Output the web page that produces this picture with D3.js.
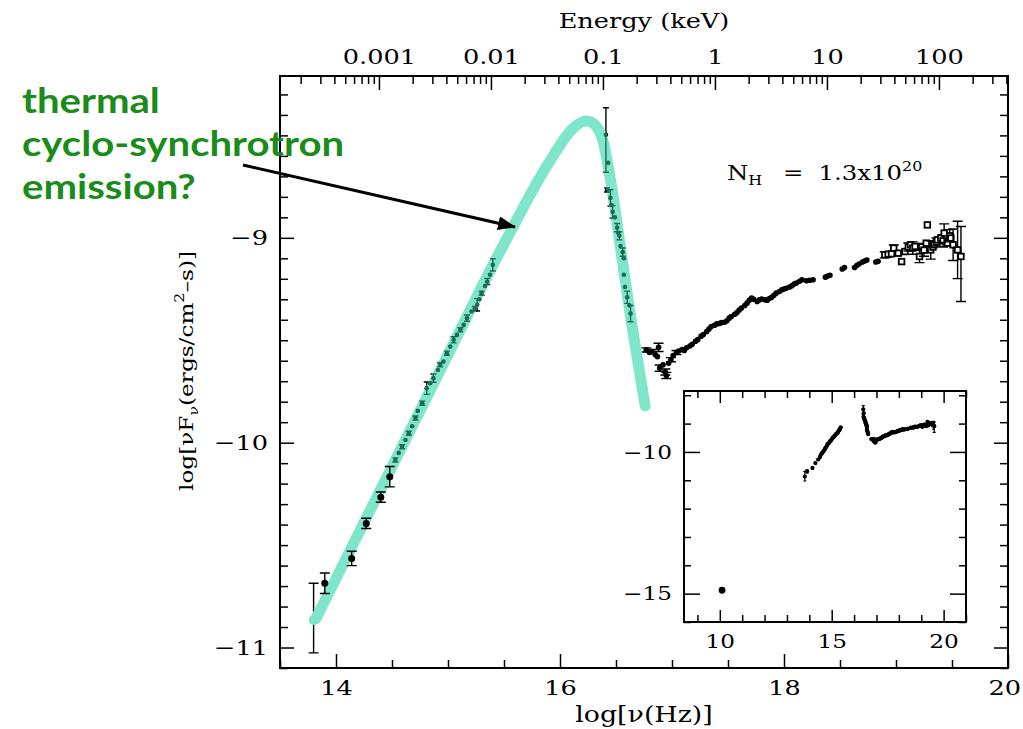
<!DOCTYPE html>
<html>
<head>
<meta charset="utf-8">
<script src="https://cdn.jsdelivr.net/npm/d3@7"></script>
<style>
  body { margin: 0; background: #fff; }
  svg { display: block; }
  text { font-family: 'DejaVu Serif', serif; }
  text.note { font-family: 'Lato', sans-serif; font-weight: bold; }
</style>
</head>
<body>
<svg id="chart" width="1023" height="729"></svg>
<script>
// values
// each point: [log nu (Hz), log nuFnu, err below, err above]
const irPoints = [
  [13.80, -10.866, 0.16, 0.18],
  [13.90, -10.686, 0.05, 0.05],
  [14.14, -10.565, 0.035, 0.035],
  [14.27, -10.394, 0.025, 0.025],
  [14.40, -10.266, 0.025, 0.025],
  [14.48, -10.166, 0.05, 0.05]
]

const uvPoints = [
  [14.53, -10.084, 0.01, 0.01], [14.56, -10.05, 0, 0], [14.59, -10.02, 0.01, 0.01],
  [14.62, -9.987, 0, 0], [14.65, -9.954, 0.01, 0.01], [14.68, -9.92, 0, 0],
  [14.71, -9.88, 0.01, 0.01], [14.73, -9.845, 0, 0], [14.77, -9.807, 0.01, 0.01],
  [14.81, -9.734, 0.03, 0.03], [14.84, -9.71, 0, 0], [14.87, -9.685, 0.02, 0.02],
  [14.91, -9.645, 0, 0], [14.93, -9.62, 0.01, 0.01], [14.96, -9.604, 0, 0],
  [14.99, -9.563, 0.01, 0.01], [15.02, -9.531, 0, 0], [15.05, -9.498, 0.015, 0.015],
  [15.08, -9.474, 0, 0], [15.11, -9.449, 0.01, 0.01], [15.14, -9.425, 0, 0],
  [15.17, -9.392, 0.015, 0.015], [15.21, -9.36, 0, 0], [15.24, -9.345, 0.01, 0.01],
  [15.26, -9.327, 0.03, 0.03], [15.28, -9.30, 0, 0], [15.30, -9.27, 0.01, 0.01],
  [15.33, -9.235, 0, 0], [15.35, -9.213, 0.015, 0.015], [15.375, -9.18, 0, 0],
  [15.40, -9.132, 0.03, 0.03]
]

const euvPoints = [
  [16.41, -8.497, 0.183, 0.132], [16.43, -8.634, 0, 0], [16.42, -8.766, 0.01, 0.01],
  [16.45, -8.805, 0.04, 0.04], [16.46, -8.84, 0, 0], [16.47, -8.873, 0.03, 0.03],
  [16.49, -8.90, 0, 0], [16.51, -8.95, 0.02, 0.02], [16.52, -8.975, 0, 0],
  [16.53, -8.99, 0.02, 0.02], [16.54, -9.04, 0, 0], [16.56, -9.07, 0.02, 0.02],
  [16.57, -9.10, 0, 0], [16.57, -9.18, 0, 0], [16.58, -9.24, 0, 0],
  [16.60, -9.29, 0.03, 0.03], [16.62, -9.33, 0, 0], [16.63, -9.37, 0.04, 0.04]
]

const xrayPoints = [
  [16.77, -9.547, 0.01, 0.01], [16.80, -9.560, 0, 0], [16.82, -9.555, 0.01, 0.01],
  [16.85, -9.570, 0, 0], [16.87, -9.580, 0, 0], [16.88, -9.535, 0.02, 0.02],
  [16.89, -9.636, 0.015, 0.015], [16.92, -9.620, 0, 0], [16.94, -9.655, 0.015, 0.015],
  [16.95, -9.672, 0.015, 0.015], [16.97, -9.612, 0, 0], [16.99, -9.595, 0.01, 0.01],
  [17.01, -9.575, 0, 0], [17.04, -9.560, 0.01, 0.01], [17.06, -9.553, 0, 0],
  [17.09, -9.545, 0, 0], [17.11, -9.550, 0, 0], [17.13, -9.537, 0, 0],
  [17.16, -9.528, 0, 0], [17.18, -9.520, 0, 0], [17.21, -9.505, 0, 0],
  [17.23, -9.497, 0, 0], [17.26, -9.480, 0, 0], [17.28, -9.472, 0, 0],
  [17.31, -9.457, 0, 0], [17.33, -9.445, 0, 0], [17.35, -9.433, 0, 0],
  [17.38, -9.427, 0, 0], [17.40, -9.420, 0, 0], [17.42, -9.418, 0, 0],
  [17.44, -9.414, 0, 0], [17.47, -9.412, 0, 0], [17.49, -9.405, 0, 0],
  [17.51, -9.392, 0, 0], [17.53, -9.384, 0, 0], [17.56, -9.373, 0, 0],
  [17.58, -9.365, 0, 0], [17.60, -9.352, 0, 0], [17.62, -9.343, 0, 0],
  [17.65, -9.330, 0, 0], [17.67, -9.319, 0, 0], [17.69, -9.305, 0, 0],
  [17.71, -9.294, 0, 0], [17.73, -9.300, 0, 0], [17.76, -9.311, 0, 0],
  [17.78, -9.303, 0, 0], [17.80, -9.299, 0, 0], [17.83, -9.302, 0, 0],
  [17.85, -9.305, 0, 0], [17.87, -9.296, 0, 0], [17.89, -9.290, 0, 0],
  [17.91, -9.280, 0, 0], [17.93, -9.270, 0, 0], [17.96, -9.262, 0, 0],
  [17.98, -9.254, 0, 0], [18.00, -9.250, 0, 0], [18.02, -9.246, 0, 0],
  [18.05, -9.240, 0, 0], [18.07, -9.234, 0, 0], [18.09, -9.226, 0, 0],
  [18.11, -9.221, 0, 0], [18.14, -9.212, 0, 0], [18.16, -9.205, 0, 0],
  [18.20, -9.210, 0, 0], [18.23, -9.207, 0, 0], [18.26, -9.205, 0, 0],
  [18.37, -9.192, 0, 0], [18.39, -9.186, 0, 0], [18.41, -9.183, 0, 0],
  [18.52, -9.152, 0, 0], [18.54, -9.145, 0, 0], [18.63, -9.145, 0, 0],
  [18.65, -9.135, 0, 0], [18.67, -9.128, 0, 0], [18.70, -9.118, 0, 0],
  [18.72, -9.113, 0, 0], [18.74, -9.108, 0, 0], [18.82, -9.118, 0, 0],
  [18.84, -9.114, 0, 0],
  [18.90, -9.083, 0.015, 0.015], [18.93, -9.080, 0, 0], [18.96, -9.078, 0, 0],
  [18.98, -9.050, 0.015, 0.015], [19.02, -9.075, 0, 0], [19.05, -9.116, 0, 0],
  [19.08, -9.067, 0, 0], [19.11, -9.045, 0.02, 0.02], [19.13, -9.034, 0, 0],
  [19.15, -9.050, 0.03, 0.03], [19.17, -9.042, 0, 0], [19.21, -9.091, 0.03, 0.03],
  [19.23, -9.042, 0, 0], [19.25, -9.060, 0.03, 0.03], [19.27, -9.026, 0, 0],
  [19.28, -8.937, 0, 0], [19.31, -9.059, 0.045, 0.045], [19.33, -9.045, 0, 0],
  [19.34, -9.034, 0, 0], [19.36, -9.020, 0.02, 0.02], [19.37, -9.010, 0, 0],
  [19.40, -9.001, 0, 0], [19.42, -9.015, 0.03, 0.03], [19.43, -8.977, 0.045, 0.045],
  [19.46, -9.026, 0, 0], [19.48, -8.990, 0.03, 0.03], [19.49, -9.001, 0, 0],
  [19.51, -9.034, 0.077, 0.077], [19.55, -9.059, 0.14, 0.14], [19.58, -9.091, 0.22, 0.146]
]

// radio point only shown in the inset
const radioPoints = [[10.1, -14.88, 0, 0]]

// thermal cyclo-synchrotron model
const modelNu = [13.82, 14.2, 14.6, 15.0, 15.3, 15.5, 15.65, 15.8, 15.95, 16.06, 16.15,
  16.22, 16.28, 16.33, 16.38, 16.42, 16.47, 16.52, 16.58, 16.64, 16.70, 16.76]
const modelFlux = [-10.86, -10.445, -10.008, -9.57, -9.24, -9.03, -8.875, -8.725, -8.59, -8.50, -8.45,
  -8.43, -8.435, -8.46, -8.52, -8.62, -8.78, -8.97, -9.20, -9.42, -9.62, -9.82]

const nuTicks = [14, 16, 18, 20]
const fluxTicks = [-11, -10, -9]
const energyTicks = [0.001, 0.01, 0.1, 1, 10, 100]
const energyTickLabels = ['0.001', '0.01', '0.1', '1', '10', '100']
const insetNuTicks = [10, 15, 20]
const insetFluxTicks = [-15, -10]
const annotationLines = ['thermal', 'cyclo-synchrotron', 'emission?']

const W = 1023
const H = 729
const LOG_NU_PER_KEV = 17.3834 // log10(1 keV / h)
const CURVE_W = 11
const TEXT_WIDEN = 1.22 // the plot font is wider than DejaVu Serif
const TEAL = '#80e6cb'
const DARK_TEAL = '#1d6b57'
const GREEN = '#1a8c1a'

const frame = { left: 280, right: 1008, top: 76, bottom: 668 }
const insetFrame = { left: 684, right: 966, top: 391, bottom: 622 }

const svg = d3.select('#chart')
svg.append('rect').attr('width', W).attr('height', H).attr('fill', '#fff')

const x = d3.scaleLinear().domain([13.5, 20]).range([frame.left, frame.right])
const y = d3.scaleLinear().domain([-11.1, -8.21]).range([frame.bottom, frame.top])
const energy = d3.scaleLog()
  .domain(x.domain().map((v) => 10 ** (v - LOG_NU_PER_KEV)))
  .range(x.range())

const xi = d3.scaleLinear().domain([8.4, 21]).range([insetFrame.left, insetFrame.right])
const yi = d3.scaleLinear().domain([-16, -7.85]).range([insetFrame.bottom, insetFrame.top])

const fmt = d3.format('d')

// stretch text horizontally around its anchor point
function widen(sel, s) {
  sel.each(function () {
    const t = d3.select(this)
    const tx = +t.attr('x') || 0
    const ty = +t.attr('y') || 0
    t.attr('x', null).attr('y', null)
      .attr('transform', `translate(${tx},${ty}) scale(${s},1)`)
  })
  return sel
}

// draws one side of ticks; negative size points them into the frame
function ticks(g, axisFn, scale, values, size, format, fontSize) {
  const axis = axisFn(scale)
    .tickValues(values)
    .tickSizeInner(-size)
    .tickSizeOuter(0)
    .tickPadding(12)
    .tickFormat(format || (() => ''))
  g.call(axis)
  g.select('.domain').remove()
  g.selectAll('line').attr('stroke-width', 1.5)
  g.attr('font-family', null).attr('font-size', fontSize || 21)
  widen(g.selectAll('text'), TEXT_WIDEN)
  return g
}

function drawPoints(g, data, xs, ys, opts) {
  const r = opts.r
  const cap = opts.cap
  const color = opts.color || '#000'
  const pts = g.selectAll(null).data(data).join('g')
  pts.filter((d) => d[2] + d[3] > 0)
    .append('path')
    .attr('d', (d) => {
      const cx = xs(d[0])
      const y0 = ys(d[1] - d[2])
      const y1 = ys(d[1] + d[3])
      return `M${cx - cap},${y0}H${cx + cap}M${cx},${y0}V${y1}M${cx - cap},${y1}H${cx + cap}`
    })
    .attr('fill', 'none')
    .attr('stroke', color)
    .attr('stroke-width', opts.bar || 1.4)
  pts.filter((d) => !(opts.square && opts.square(d)))
    .append('circle')
    .attr('cx', (d) => xs(d[0]))
    .attr('cy', (d) => ys(d[1]))
    .attr('r', r)
    .attr('fill', color)
  if (opts.square) {
    pts.filter(opts.square)
      .append('rect')
      .attr('x', (d) => xs(d[0]) - r)
      .attr('y', (d) => ys(d[1]) - r)
      .attr('width', r * 2)
      .attr('height', r * 2)
      .attr('fill', '#fff')
      .attr('stroke', color)
      .attr('stroke-width', 1.8)
  }
}

// ---- main panel data ----
const model = d3.line()
  .x((d) => x(d[0]))
  .y((d) => y(d[1]))
  .curve(d3.curveCatmullRom)
const modelPath = model(d3.zip(modelNu, modelFlux))

const defs = svg.append('defs')
defs.append('mask')
  .attr('id', 'curve-mask')
  .attr('maskUnits', 'userSpaceOnUse')
  .attr('x', 0).attr('y', 0).attr('width', W).attr('height', H)
  .append('path')
  .attr('d', modelPath)
  .attr('fill', 'none')
  .attr('stroke', '#fff')
  .attr('stroke-width', CURVE_W)
  .attr('stroke-linecap', 'round')

defs.append('marker')
  .attr('id', 'arrow-head')
  .attr('viewBox', '0 0 18 14')
  .attr('refX', 17)
  .attr('refY', 7)
  .attr('markerUnits', 'userSpaceOnUse')
  .attr('markerWidth', 18)
  .attr('markerHeight', 14)
  .attr('orient', 'auto')
  .append('path')
  .attr('d', 'M0,0L18,7L0,14Z')
  .attr('fill', '#000')

const dataG = svg.append('g').attr('class', 'data')
const isSquare = (d) => d[0] > 18.86
// the lowest IR point sits under the end of the model curve
drawPoints(dataG.append('g'), irPoints.slice(0, 1), x, y, { r: 4, cap: 5 })
drawPoints(dataG.append('g'), uvPoints.concat(euvPoints), x, y, { r: 2.3, cap: 3 })
drawPoints(dataG.append('g'), xrayPoints, x, y, { r: 2.8, cap: 5, square: isSquare })

dataG.append('path')
  .attr('d', modelPath)
  .attr('fill', 'none')
  .attr('stroke', TEAL)
  .attr('stroke-width', CURVE_W)
  .attr('stroke-linecap', 'round')

// points seen through the model curve
drawPoints(dataG.append('g').attr('mask', 'url(#curve-mask)'), uvPoints.concat(euvPoints), x, y,
  { r: 2.3, cap: 3, color: DARK_TEAL })
drawPoints(dataG.append('g'), irPoints.slice(1), x, y, { r: 3.5, cap: 5 })
dataG.append('circle')
  .attr('cx', x(irPoints[0][0]))
  .attr('cy', y(irPoints[0][1]))
  .attr('r', 5)
  .attr('fill', TEAL)

// ---- main frame and axes ----
ticks(svg.append('g').attr('transform', `translate(0,${frame.bottom})`),
  d3.axisBottom, x, x.ticks(13).filter((v) => !nuTicks.includes(v)), 8)
ticks(svg.append('g').attr('transform', `translate(0,${frame.bottom})`),
  d3.axisBottom, x, nuTicks, 14, fmt)

const yMinor = y.ticks(30).filter((v) => !fluxTicks.includes(v))
ticks(svg.append('g').attr('transform', `translate(${frame.left},0)`), d3.axisLeft, y, yMinor, 8)
ticks(svg.append('g').attr('transform', `translate(${frame.left},0)`), d3.axisLeft, y, fluxTicks, 14, fmt)
ticks(svg.append('g').attr('transform', `translate(${frame.right},0)`), d3.axisRight, y, yMinor, 8)
ticks(svg.append('g').attr('transform', `translate(${frame.right},0)`), d3.axisRight, y, fluxTicks, 14)

ticks(svg.append('g').attr('transform', `translate(0,${frame.top})`),
  d3.axisTop, energy, energy.ticks().filter((v) => !energyTicks.some((e) => Math.abs(e - v) < e * 1e-6)), 8)
ticks(svg.append('g').attr('transform', `translate(0,${frame.top})`),
  d3.axisTop, energy, energyTicks, 14, (d, i) => energyTickLabels[i])

svg.append('rect')
  .attr('x', frame.left)
  .attr('y', frame.top)
  .attr('width', frame.right - frame.left)
  .attr('height', frame.bottom - frame.top)
  .attr('fill', 'none')
  .attr('stroke', '#000')
  .attr('stroke-width', 2)

// axis titles
widen(svg.append('text')
  .attr('x', (frame.left + frame.right) / 2)
  .attr('y', 28)
  .attr('text-anchor', 'middle')
  .attr('font-size', 21)
  .text('Energy (keV)'), TEXT_WIDEN)

widen(svg.append('text')
  .attr('x', (frame.left + frame.right) / 2)
  .attr('y', 722)
  .attr('text-anchor', 'middle')
  .attr('font-size', 22)
  .text('log[ν(Hz)]'), TEXT_WIDEN)

const yTitle = svg.append('text')
  .attr('transform', `translate(193,371) rotate(-90) scale(${TEXT_WIDEN},1)`)
  .attr('text-anchor', 'middle')
  .attr('font-size', 19)
yTitle.append('tspan').text('log[νF')
yTitle.append('tspan').attr('font-size', 13).attr('dy', 5).text('ν')
yTitle.append('tspan').attr('dy', -5).text('(ergs/cm')
yTitle.append('tspan').attr('font-size', 13).attr('dy', -9).text('2')
yTitle.append('tspan').attr('dy', 9).text('–s)]')

// column density label
const nh = svg.append('text')
  .attr('transform', `translate(727,180) scale(${TEXT_WIDEN},1)`)
  .attr('font-size', 20)
nh.append('tspan').attr('x', 0).text('N')
nh.append('tspan').attr('font-size', 13).attr('dy', 5).text('H')
nh.append('tspan').attr('x', 46).attr('dy', -5).text('=')
nh.append('tspan').attr('x', 75).text('1.3x10')
nh.append('tspan').attr('font-size', 13).attr('dy', -9).text('20')

// ---- inset: full SED including radio ----
const inset = svg.append('g').attr('class', 'inset')
inset.append('rect')
  .attr('x', insetFrame.left)
  .attr('y', insetFrame.top)
  .attr('width', insetFrame.right - insetFrame.left)
  .attr('height', insetFrame.bottom - insetFrame.top)
  .attr('fill', '#fff')

const insetData = inset.append('g')
drawPoints(insetData.append('g'), radioPoints, xi, yi, { r: 3.4, cap: 2 })
drawPoints(insetData.append('g'), irPoints.concat(uvPoints, euvPoints, xrayPoints), xi, yi,
  { r: 2.1, cap: 1.5, bar: 1.2 })

const xiMinor = xi.ticks(13).filter((v) => !insetNuTicks.includes(v))
const yiMinor = yi.ticks(9).filter((v) => !insetFluxTicks.includes(v))
ticks(inset.append('g').attr('transform', `translate(0,${insetFrame.bottom})`), d3.axisBottom, xi, xiMinor, 7)
ticks(inset.append('g').attr('transform', `translate(0,${insetFrame.bottom})`), d3.axisBottom, xi, insetNuTicks, 12, fmt, 19)
ticks(inset.append('g').attr('transform', `translate(0,${insetFrame.top})`), d3.axisTop, xi, xiMinor, 7)
ticks(inset.append('g').attr('transform', `translate(0,${insetFrame.top})`), d3.axisTop, xi, insetNuTicks, 12)
ticks(inset.append('g').attr('transform', `translate(${insetFrame.left},0)`), d3.axisLeft, yi, yiMinor, 7)
ticks(inset.append('g').attr('transform', `translate(${insetFrame.left},0)`), d3.axisLeft, yi, insetFluxTicks, 16, fmt, 19)
ticks(inset.append('g').attr('transform', `translate(${insetFrame.right},0)`), d3.axisRight, yi, yiMinor, 7)
ticks(inset.append('g').attr('transform', `translate(${insetFrame.right},0)`), d3.axisRight, yi, insetFluxTicks, 16)

inset.append('rect')
  .attr('x', insetFrame.left)
  .attr('y', insetFrame.top)
  .attr('width', insetFrame.right - insetFrame.left)
  .attr('height', insetFrame.bottom - insetFrame.top)
  .attr('fill', 'none')
  .attr('stroke', '#000')
  .attr('stroke-width', 2)

// ---- annotation ----
widen(svg.append('g').selectAll('text')
  .data(annotationLines)
  .join('text')
  .attr('class', 'note')
  .attr('x', 22)
  .attr('y', (d, i) => 113 + i * 43)
  .attr('font-size', 34)
  .attr('fill', GREEN)
  .text((d) => d), 1.18)

svg.append('line')
  .attr('x1', 243)
  .attr('y1', 165)
  .attr('x2', 515)
  .attr('y2', 227)
  .attr('stroke', '#000')
  .attr('stroke-width', 3)
  .attr('marker-end', 'url(#arrow-head)')

// keep labels inside the picture (the "20" sits right at the edge)
svg.selectAll('text').each(function () {
  const over = this.getBoundingClientRect().right - (W - 2)
  if (over > 0) d3.select(this).attr('dx', -over / TEXT_WIDEN)
})
</script>
</body>
</html>
